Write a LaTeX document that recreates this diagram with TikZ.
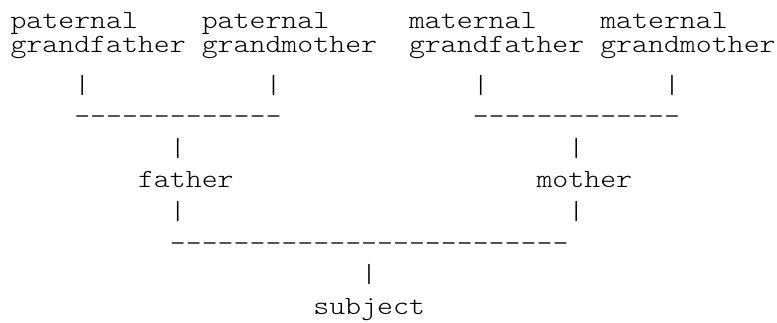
\documentclass[tikz,border=0pt]{standalone}
\usepackage{fontspec}
\newfontfamily\asciifont[FakeStretch=1.159]{lmmonolt10-regular.otf}
\begin{document}
\begin{tikzpicture}[x=1pt,y=-1pt,
  txt/.style={anchor=base west, inner sep=0pt, outer sep=0pt, text=black,
    font={\asciifont\fontsize{26.2pt}{26.2pt}\selectfont}}]
\useasboundingbox (0,0) rectangle (777,322);
% line 1
\node[txt] (pgfa) at ({10.5+15.94*0},28) {paternal};
\node[txt] (pgma) at ({10.5+15.94*12},28) {paternal};
\node[txt] (mgfa) at ({10.5+15.94*25},28) {maternal};
\node[txt] (mgma) at ({10.5+15.94*37},28) {maternal};
% line 2
\node[txt] (pgfb) at ({10.5+15.94*0},52.5) {grandfather};
\node[txt] (pgmb) at ({10.5+15.94*12},52.5) {grandmother};
\node[txt] (mgfb) at ({10.5+15.94*25},52.5) {grandfather};
\node[txt] (mgmb) at ({10.5+15.94*37},52.5) {grandmother};
% line 3
\node[txt] (p1) at ({10.5+15.94*4},93) {|};
\node[txt] (p2) at ({10.5+15.94*16},93) {|};
\node[txt] (p3) at ({10.5+15.94*29},93) {|};
\node[txt] (p4) at ({10.5+15.94*41},93) {|};
% line 4
\node[txt] (d1) at ({10.5+15.94*4},124.6) {-{}-{}-{}-{}-{}-{}-{}-{}-{}-{}-{}-{}-};
\node[txt] (d2) at ({10.5+15.94*29},124.6) {-{}-{}-{}-{}-{}-{}-{}-{}-{}-{}-{}-{}-};
% line 5
\node[txt] (p5) at ({10.5+15.94*10},156.2) {|};
\node[txt] (p6) at ({10.5+15.94*35},156.2) {|};
% line 6
\node[txt] (father) at ({10.5+15.94*8},187.8) {father};
\node[txt] (mother) at ({10.5+15.94*33},187.8) {mother};
% line 7
\node[txt] (p7) at ({10.5+15.94*10},219.4) {|};
\node[txt] (p8) at ({10.5+15.94*35},219.4) {|};
% line 8
\node[txt] (d3) at ({10.5+15.94*10},251) {-{}-{}-{}-{}-{}-{}-{}-{}-{}-{}-{}-{}-{}-{}-{}-{}-{}-{}-{}-{}-{}-{}-{}-{}-};
% line 9
\node[txt] (p9) at ({10.5+15.94*22},282.6) {|};
% line 10
\node[txt] (subject) at ({10.5+15.94*19},314) {subject};
\end{tikzpicture}
\end{document}
